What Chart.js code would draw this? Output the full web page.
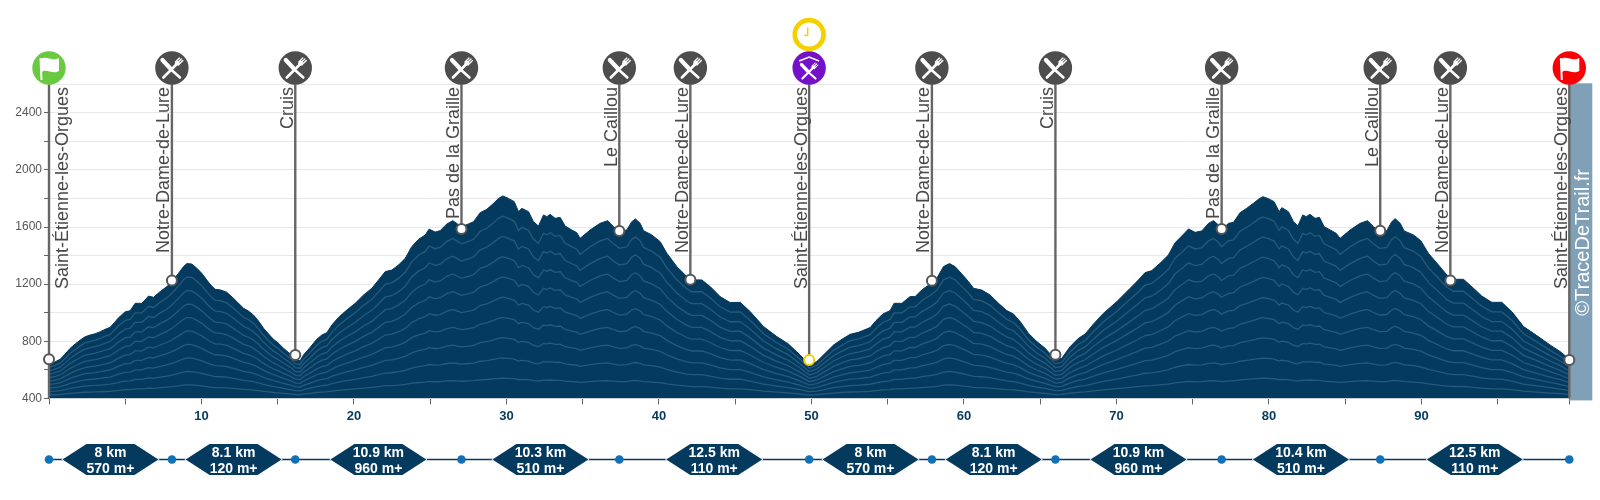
<!DOCTYPE html>
<html>
<head>
<meta charset="utf-8">
<title>Profil</title>
<script src="https://cdn.jsdelivr.net/npm/chart.js@4"></script>
<style>
  body { margin: 0; background: #fff; }
  canvas { display: block; }
</style>
</head>
<body>
<canvas id="profile" width="1600" height="500"></canvas>
<script>
/*
  @desc: values
*/
const profileKm = [
  0, 0.41, 0.73, 1.06, 1.39, 1.72, 2.05, 2.37, 2.7, 3.03, 3.36, 3.69, 4.01, 4.28, 4.56, 5, 5.32, 5.65, 6.09, 6.53,
  6.85, 7.29, 7.73, 8.06, 8.49, 8.82, 9.04, 9.37, 9.7, 10.02, 10.35, 10.61, 10.9, 11.27, 11.66, 12.1, 12.43, 12.76, 13.08, 13.41,
  13.74, 14.07, 14.4, 14.72, 15.05, 15.38, 15.82, 16.17, 16.47, 16.69, 17.13, 17.56, 17.89, 18.22, 18.55, 18.99, 19.53, 20.08, 20.63, 21.17,
  21.61, 22.05, 22.48, 22.92, 23.36, 23.79, 24.23, 24.67, 24.93, 25.32, 25.65, 26.09, 26.48, 26.79, 27.07, 27.51, 27.84, 28.28, 28.71, 29.15,
  29.48, 29.76, 30.13, 30.51, 30.79, 31.01, 31.45, 31.77, 32.1, 32.43, 32.65, 32.87, 33.19, 33.52, 33.85, 34.29, 34.61, 34.83, 35.49, 36.14,
  36.63, 37.02, 37.41, 37.89, 38.22, 38.46, 38.77, 38.99, 39.53, 40.08, 40.52, 41.17, 41.83, 42.16, 42.81, 43.36, 44.01, 44.67, 45.33, 45.98,
  46.86, 47.73, 48.49, 49.26, 49.87,
  50.35, 50.9, 51.45, 52, 52.54, 53.09, 53.85, 54.24, 54.68, 55.16, 55.42, 55.93, 56.47, 56.8, 57.24, 57.85, 58.22, 58.66, 59.05, 59.42,
  59.86, 60.3, 60.63, 61.17, 61.72, 62.27, 62.81, 63.25, 63.69, 64.23, 64.78, 65.33, 66, 66.42, 66.97, 67.51, 67.95, 68.5, 69.15, 70.03,
  70.9, 71.34, 71.88, 72.32, 72.98, 73.41, 73.85, 74.29, 74.73, 75.16, 75.6, 76.04, 76.37, 76.69, 76.89, 77.35, 77.68, 78.11, 78.55, 78.99,
  79.32, 79.6, 79.97, 80.34, 80.67, 80.85, 81.28, 81.61, 81.9, 82.22, 82.44, 82.7, 83.03, 83.32, 83.62, 84.02, 84.41, 84.67, 85.33, 85.98,
  86.46, 86.86, 87.25, 87.73, 88.06, 88.28, 88.61, 88.87, 89.48, 89.96, 90.46, 91.12, 91.67, 92.1, 92.76, 93.42, 93.96, 94.62, 95.27, 95.93,
  96.7, 97.57, 98.44, 99.1, 99.7
];
const profileElev = [
  641, 657, 674, 711, 751, 781, 809, 832, 844, 853, 867, 884, 898, 930, 965, 1007, 1014, 1066, 1066, 1117,
  1108, 1148, 1183, 1218, 1276, 1323, 1344, 1341, 1311, 1276, 1229, 1194, 1164, 1159, 1143, 1101, 1066, 1031, 1012, 984,
  942, 891, 851, 814, 786, 751, 711, 669, 664, 704, 758, 814, 844, 860, 914, 968, 1019, 1066, 1124, 1171,
  1229, 1288, 1299, 1334, 1381, 1463, 1514, 1544, 1586, 1565, 1575, 1622, 1645, 1622, 1603, 1622, 1638, 1701, 1724, 1766,
  1801, 1818, 1801, 1778, 1708, 1731, 1708, 1638, 1607, 1685, 1673, 1689, 1661, 1668, 1607, 1579, 1561, 1521, 1580, 1626,
  1645, 1603, 1568, 1580, 1638, 1657, 1626, 1575, 1545, 1498, 1416, 1323, 1253, 1230, 1230, 1183, 1113, 1071, 1073, 1008,
  903, 833, 781, 704, 634,
  658, 716, 774, 814, 849, 863, 896, 945, 991, 1015, 1066, 1066, 1113, 1113, 1160, 1206, 1241, 1323, 1344, 1323,
  1272, 1218, 1171, 1159, 1124, 1066, 1015, 991, 938, 856, 798, 751, 669, 681, 763, 821, 851, 921, 996, 1078,
  1171, 1218, 1281, 1295, 1358, 1405, 1491, 1538, 1587, 1563, 1573, 1626, 1645, 1615, 1580, 1626, 1633, 1701, 1732, 1767,
  1795, 1813, 1799, 1778, 1708, 1736, 1708, 1638, 1608, 1685, 1673, 1689, 1661, 1668, 1603, 1580, 1556, 1521, 1580, 1626,
  1645, 1603, 1568, 1575, 1638, 1659, 1626, 1573, 1545, 1505, 1416, 1335, 1265, 1234, 1234, 1171, 1117, 1073, 1073, 1008,
  903, 840, 774, 728, 675
];
const contourShares = [0.1, 0.2, 0.3, 0.4, 0.5, 0.6, 0.7, 0.8, 0.9];

const stopNames = [
  "Saint-Étienne-les-Orgues", "Notre-Dame-de-Lure", "Cruis", "Pas de la Graille", "Le Caillou", "Notre-Dame-de-Lure",
  "Saint-Étienne-les-Orgues", "Notre-Dame-de-Lure", "Cruis", "Pas de la Graille", "Le Caillou", "Notre-Dame-de-Lure",
  "Saint-Étienne-les-Orgues"
];
const stopKm = [0, 8.06, 16.15, 27.05, 37.4, 42.06, 49.85, 57.9, 66, 76.9, 87.3, 91.9, 99.7];
const stopElev = [674, 1225, 704, 1586, 1572, 1231, 669, 1224, 706, 1586, 1574, 1226, 669];

const legStopKm = [0, 8.06, 16.15, 27.05, 37.4, 49.85, 57.9, 66, 76.9, 87.3, 99.7];
const legDistance = ["8 km", "8.1 km", "10.9 km", "10.3 km", "12.5 km", "8 km", "8.1 km", "10.9 km", "10.4 km", "12.5 km"];
const legGain = ["570 m+", "120 m+", "960 m+", "510 m+", "110 m+", "570 m+", "120 m+", "960 m+", "510 m+", "110 m+"];

const NAVY = "#053a5f";
const FONT = '"Liberation Sans", Arial, sans-serif';

/*
  @desc: small white glyphs for the round icons
*/
var drawCutlery = function (ctx, x, y, scale) {
  ctx.save();
  ctx.translate(x, y);
  ctx.scale(scale, scale);
  ctx.strokeStyle = "#fff";
  ctx.lineCap = "round";
  // knife
  ctx.lineWidth = 2.6;
  ctx.beginPath();
  ctx.moveTo(-2, 0.5);
  ctx.lineTo(8, 9.5);
  ctx.stroke();
  ctx.lineWidth = 4.2;
  ctx.beginPath();
  ctx.moveTo(-9.5, -8);
  ctx.lineTo(-2, 0);
  ctx.stroke();
  // fork
  ctx.lineWidth = 2.6;
  ctx.beginPath();
  ctx.moveTo(-8.5, 9.5);
  ctx.lineTo(5, -4);
  ctx.stroke();
  ctx.lineWidth = 1.3;
  ctx.beginPath();
  ctx.moveTo(3.5, -6);
  ctx.lineTo(7.5, -10);
  ctx.moveTo(5, -4.5);
  ctx.lineTo(9.5, -9);
  ctx.moveTo(6.5, -3);
  ctx.lineTo(11, -7.5);
  ctx.stroke();
  ctx.lineWidth = 3.4;
  ctx.beginPath();
  ctx.moveTo(4.5, -4);
  ctx.lineTo(6, -5.5);
  ctx.stroke();
  ctx.restore();
};

var drawFlag = function (ctx, x, y) {
  ctx.save();
  ctx.translate(x, y);
  ctx.strokeStyle = "#fff";
  ctx.fillStyle = "#fff";
  ctx.lineWidth = 2;
  ctx.beginPath();
  ctx.moveTo(-8.5, -10);
  ctx.lineTo(-7.5, 12);
  ctx.stroke();
  ctx.beginPath();
  ctx.moveTo(-8, -9);
  ctx.bezierCurveTo(-3, -13, 3, -6, 10, -10);
  ctx.lineTo(10, 3);
  ctx.bezierCurveTo(3, 7, -2, 0, -7.5, 4);
  ctx.closePath();
  ctx.fill();
  ctx.restore();
};

var drawClock = function (ctx, x, y) {
  ctx.save();
  ctx.strokeStyle = "#f5d000";
  ctx.lineWidth = 4.7;
  ctx.fillStyle = "#fff";
  ctx.beginPath();
  ctx.arc(x, y, 14.4, 0, Math.PI * 2);
  ctx.fill();
  ctx.stroke();
  ctx.lineWidth = 1.5;
  ctx.beginPath();
  ctx.moveTo(x - 1.5, y - 7);
  ctx.lineTo(x - 1.5, y + 1);
  ctx.lineTo(x - 5, y + 1);
  ctx.stroke();
  ctx.restore();
};

var drawDisc = function (ctx, x, y, color) {
  ctx.fillStyle = color;
  ctx.beginPath();
  ctx.arc(x, y, 16.7, 0, Math.PI * 2);
  ctx.fill();
};

/*
  @desc: credit band goes under the datasets, so the last stop line and dot stay on top.
  Icons, rotated stop names and the bottom strip of legs go over everything.
*/
const overlayPlugin = {
  id: "overlay",
  beforeDatasetsDraw(chart) {
    const ctx = chart.ctx;
    const area = chart.chartArea;
    ctx.save();
    ctx.fillStyle = "#7fa0b6";
    ctx.fillRect(area.right, area.top - 1, 23, area.bottom - area.top + 3);
    ctx.translate(area.right + 19.5, (area.top + area.bottom) / 2 + 1);
    ctx.rotate(-Math.PI / 2);
    ctx.fillStyle = "#fff";
    ctx.font = "20px " + FONT;
    ctx.textAlign = "center";
    ctx.fillText("©TraceDeTrail.fr", 0, 0);
    ctx.restore();
  },
  afterDraw(chart) {
    const ctx = chart.ctx;
    const xScale = chart.scales.x;
    ctx.save();

    // stop names
    ctx.font = "18px " + FONT;
    ctx.fillStyle = "#484848";
    stopNames.forEach((name, i) => {
      const x = xScale.getPixelForValue(stopKm[i]);
      ctx.save();
      ctx.translate(i === 0 ? x + 19 : x - 2.5, 87);
      ctx.rotate(-Math.PI / 2);
      ctx.textAlign = "right";
      ctx.fillText(name, 0, 0);
      ctx.restore();
    });

    // icons on top of the stop lines
    stopKm.forEach((km, i) => {
      const x = xScale.getPixelForValue(km);
      const y = 68;
      if (i === 0) {
        drawDisc(ctx, x, y, "#69c940");
        drawFlag(ctx, x, y);
      } else if (i === stopKm.length - 1) {
        drawDisc(ctx, x, y, "#fb0007");
        drawFlag(ctx, x, y);
      } else if (i === 6) {
        drawDisc(ctx, x, y, "#7410c9");
        drawCutlery(ctx, x, y + 3, 0.8);
        ctx.strokeStyle = "#fff";
        ctx.lineWidth = 1.6;
        ctx.beginPath();
        ctx.moveTo(x - 10, y - 7);
        ctx.lineTo(x, y - 11);
        ctx.lineTo(x + 10, y - 7);
        ctx.stroke();
        drawClock(ctx, x, 34.5);
      } else {
        drawDisc(ctx, x, y, "#4d4d4d");
        drawCutlery(ctx, x, y, 1);
      }
    });

    // bottom strip of legs
    const stripY = 459.5;
    ctx.strokeStyle = NAVY;
    ctx.lineWidth = 1.5;
    ctx.beginPath();
    ctx.moveTo(xScale.getPixelForValue(legStopKm[0]), stripY);
    ctx.lineTo(xScale.getPixelForValue(legStopKm[legStopKm.length - 1]), stripY);
    ctx.stroke();
    legDistance.forEach((distance, i) => {
      const mid = (xScale.getPixelForValue(legStopKm[i]) + xScale.getPixelForValue(legStopKm[i + 1])) / 2;
      ctx.fillStyle = NAVY;
      ctx.strokeStyle = "#fff";
      ctx.lineWidth = 1.2;
      ctx.beginPath();
      ctx.moveTo(mid - 48, stripY);
      ctx.lineTo(mid - 24, stripY - 15.5);
      ctx.lineTo(mid + 24, stripY - 15.5);
      ctx.lineTo(mid + 48, stripY);
      ctx.lineTo(mid + 24, stripY + 15.5);
      ctx.lineTo(mid - 24, stripY + 15.5);
      ctx.closePath();
      ctx.stroke();
      ctx.fill();
      ctx.fillStyle = "#fff";
      ctx.font = "bold 14px " + FONT;
      ctx.textAlign = "center";
      ctx.textBaseline = "middle";
      ctx.fillText(distance, mid, 453);
      ctx.fillText(legGain[i], mid, 469);
      ctx.textBaseline = "alphabetic";
    });
    legStopKm.forEach((km) => {
      ctx.fillStyle = "#1070b8";
      ctx.beginPath();
      ctx.arc(xScale.getPixelForValue(km), stripY, 4.3, 0, Math.PI * 2);
      ctx.fill();
    });
    ctx.restore();
  },
};

/*
  @desc: datasets: stop dots on top, then stop lines, contours and the profile
*/
let datasets = [
  {
    data: stopKm.map((km, i) => ({ x: km, y: stopElev[i] })),
    showLine: false,
    order: 0,
    clip: false,
    pointRadius: 5,
    pointBorderWidth: 2,
    pointBackgroundColor: "#fff",
    pointBorderColor: (c) => (c.dataIndex === 6 ? "#f5d000" : "#555"),
  },
];
stopKm.forEach((km, i) => {
  const isEnd = i === 0 || i === stopKm.length - 1;
  datasets.push({
    data: [{ x: km, y: 2600 }, { x: km, y: isEnd ? 400 : stopElev[i] }],
    order: 1,
    clip: false,
    borderColor: "#666",
    borderWidth: 2.4,
    pointRadius: 0,
  });
});
contourShares.forEach((share) => {
  datasets.push({
    data: profileKm.map((km, i) => ({ x: km, y: 400 + (profileElev[i] - 400) * share })),
    order: 2,
    borderColor: "#265a7c",
    borderWidth: 1.3,
    pointRadius: 0,
  });
});
datasets.push({
  data: profileKm.map((km, i) => ({ x: km, y: profileElev[i] })),
  order: 3,
  borderColor: NAVY,
  backgroundColor: NAVY,
  borderWidth: 1,
  pointRadius: 0,
  fill: "start",
});

const profileChart = new Chart(document.getElementById("profile"), {
  type: "line",
  data: { datasets: datasets },
  plugins: [overlayPlugin],
  options: {
    responsive: false,
    animation: false,
    layout: { padding: { top: 84.3, right: 30.7, bottom: 71.6, left: 0 } },
    plugins: { legend: { display: false }, tooltip: { enabled: false } },
    scales: {
      x: {
        type: "linear",
        min: 0,
        max: 99.7,
        afterFit(scale) { scale.height = 30; },
        border: { display: false },
        grid: { drawOnChartArea: false, tickLength: 6, tickColor: "#666", tickWidth: 1 },
        ticks: {
          stepSize: 5,
          autoSkip: false,
          maxRotation: 0,
          padding: 4,
          color: NAVY,
          font: { family: FONT, size: 13, weight: "bold" },
          callback: (value) => (value % 10 === 0 && value > 0 ? value : ""),
        },
      },
      y: {
        min: 400,
        max: 2600,
        afterFit(scale) { scale.width = 49; },
        border: { display: false },
        grid: {
          color: "#e8e8e8",
          tickLength: 5,
          tickColor: (c) => (c.tick.value === 2600 ? "transparent" : "#666"),
        },
        ticks: {
          stepSize: 200,
          padding: 2,
          color: "#555",
          font: { family: FONT, size: 12 },
          callback: (value) => (value % 400 === 0 && value < 2600 ? value : ""),
        },
      },
    },
  },
});
</script>
</body>
</html>
